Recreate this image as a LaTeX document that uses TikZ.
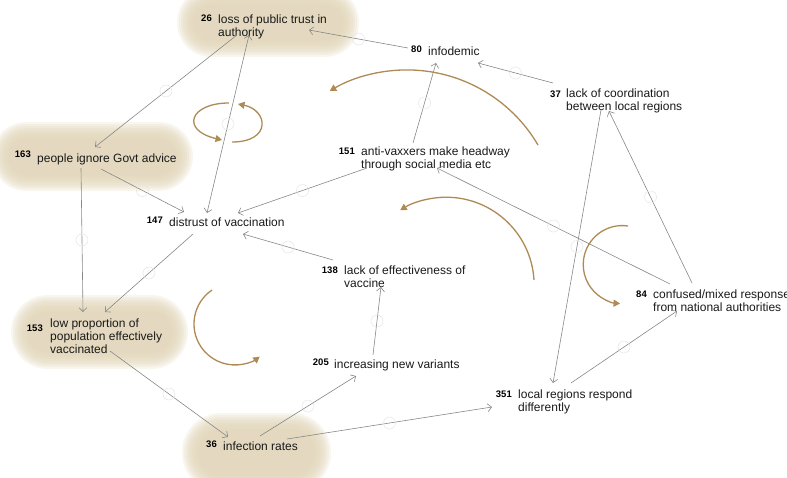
\documentclass[tikz,border=0pt]{standalone}
\usepackage{fontspec}
\setmainfont{Liberation Sans}
\usetikzlibrary{arrows.meta,calc}
\definecolor{blobc}{RGB}{225,213,184}
\definecolor{loopc}{RGB}{174,138,84}
\definecolor{edgec}{RGB}{135,135,135}
\definecolor{hdlc}{RGB}{228,228,228}
\definecolor{txtc}{RGB}{25,25,25}
\newcommand\softblob[4]{%
  \foreach \k in {0,...,8}{%
    \pgfmathsetmacro\rr{(#4-#2)/2-2*\k-0.5}%
    \fill[blobc, fill opacity=0.22, rounded corners=\rr pt] ({#1+2*\k},{#2+2*\k}) rectangle ({#3-2*\k},{#4-2*\k});
  }}
\newcommand\mlines[1]{\begin{tabular}[t]{@{}l@{}}#1\end{tabular}}
\tikzset{
  barb/.tip={Straight Barb[length=4pt,width=8pt]},
  lbl/.style={font=\fontsize{12}{13.3}\selectfont, text=txtc, inner sep=0pt, anchor=base west},
  num/.style={font=\fontsize{9.5}{11}\selectfont\bfseries, text=black, inner sep=0pt, anchor=base east},
  edge/.style={draw=edgec, line width=0.6pt, -barb},
  biedge/.style={draw=edgec, line width=0.6pt, barb-barb},
  hdl/.style={circle, draw=hdlc, line width=0.5pt, minimum size=12pt, inner sep=0pt, fill=none},
  loop/.style={draw=loopc, line width=1.3pt, -{Triangle[length=6.5pt,width=7pt]}},
}
\begin{document}
\begin{tikzpicture}[x=1pt,y=-1pt]
\useasboundingbox (0,0) rectangle (787,477);
% soft highlight blobs
\softblob{177}{-12}{359}{57}
\softblob{-8}{122}{193}{191}
\softblob{11}{295}{188}{369}
\softblob{182}{413}{331}{492}

% labels
\node[lbl] (n26) at (218,23) {\mlines{loss of public trust in\\authority}};
\node[num] (n26num) at (212,21) {26};
\node[lbl] (n80) at (428,55) {infodemic};
\node[num] (n80num) at (422,52) {80};
\node[lbl] (n37) at (566,97) {\mlines{lack of coordination\\between local regions}};
\node[num] (n37num) at (561,97) {37};
\node[lbl] (n151) at (361,155) {\mlines{anti-vaxxers make headway\\through social media etc}};
\node[num] (n151num) at (355,154) {151};
\node[lbl] (n163) at (37,162) {people ignore Govt advice};
\node[num] (n163num) at (31,157) {163};
\node[lbl] (n147) at (169,226) {distrust of vaccination};
\node[num] (n147num) at (163,223) {147};
\node[lbl] (n138) at (344,274) {\mlines{lack of effectiveness of\\vaccine}};
\node[num] (n138num) at (338,273) {138};
\node[lbl] (n153) at (50,327) {\mlines{low proportion of\\population effectively\\vaccinated}};
\node[num] (n153num) at (43,331) {153};
\node[lbl] (n205) at (334,368) {increasing new variants};
\node[num] (n205num) at (329,365) {205};
\node[lbl] (n36) at (223,450) {infection rates};
\node[num] (n36num) at (217,447) {36};
\node[lbl] (n84) at (653,298) {\mlines{confused/mixed response\\from national authorities}};
\node[num] (n84num) at (647,297) {84};
\node[lbl] (n351) at (518,398) {\mlines{local regions respond\\differently}};
\node[num] (n351num) at (512,397) {351};

% connectors
\draw[edge] ($(n80.base west)+(-20,-7)$) -- node[hdl] (h1) {} ($(n26.base west)+(91,7)$);
\draw[edge] ($(n37.base west)+(-13,-14)$) -- node[hdl] (h2) {} ($(n80.base west)+(50,8)$);
\draw[edge] ($(n151.base west)+(52,-12)$) -- node[hdl] (h3) {} ($(n80.base west)+(8,8)$);
\draw[edge] ($(n26.base west)+(19,12)$) -- node[hdl] (h4) {} ($(n163.base west)+(58,-15)$);
\draw[biedge] ($(n26.base west)+(31,12)$) -- node[hdl] (h5) {} ($(n147.base west)+(38,-13)$);
\draw[edge] ($(n163.base west)+(64,7)$) -- node[hdl] (h6) {} ($(n147.base west)+(15,-14)$);
\draw[edge] ($(n151.base west)+(6,13)$) -- node[hdl] (h7) {} ($(n147.base west)+(69,-13)$);
\draw[edge] ($(n163.base west)+(44,6)$) -- node[hdl] (h8) {} ($(n153.base west)+(33,-15)$);
\draw[edge] ($(n147.base west)+(24,8)$) -- node[hdl] (h9) {} ($(n153.base west)+(55,-15)$);
\draw[edge] ($(n138.base west)+(-11,-14)$) -- node[hdl] (h10) {} ($(n147.base west)+(74,8)$);
\draw[edge] ($(n205.base west)+(39,-13)$) -- node[hdl] (h11) {} ($(n138.base west)+(37,13)$);
\draw[edge] ($(n153.base west)+(60,24)$) -- node[hdl] (h12) {} ($(n36.base west)+(5,-13)$);
\draw[edge] ($(n36.base west)+(37,-14)$) -- node[hdl] (h13) {} ($(n205.base west)+(22,8)$);
\draw[edge] ($(n36.base west)+(64,-11)$) -- node[hdl] (h14) {} ($(n351.base west)+(-26,9)$);
\draw[edge] ($(n37.base west)+(35,13)$) -- node[hdl] (h15) {} ($(n351.base west)+(35,-15)$);
\draw[edge] ($(n84.base west)+(39,-15)$) -- node[hdl] (h16) {} ($(n37.base west)+(43,14)$);
\draw[edge] ($(n84.base west)+(17,-14)$) -- node[hdl] (h17) {} ($(n151.base west)+(76,13)$);
\draw[edge] ($(n351.base west)+(53,-15)$) -- node[hdl] (h18) {} ($(n84.base west)+(24,13)$);

% loop arrows
\draw[loop] (229,103) .. controls (190,103) and (180,130) .. (222,140);
\draw[loop] (232,142) .. controls (272,142) and (268,110) .. (238,104);
\draw[loop] (538,145) arc[start angle=-30.4, end angle=-120.5, radius=152];
\draw[loop] (534,280) arc[start angle=-3.4, end angle=-121.5, radius=88];
\draw[loop] (628,226) arc[start angle=-81.5, end angle=-266.8, radius=39];
\draw[loop] (212,290) arc[start angle=-124.1, end angle=-307.1, radius=41];
\end{tikzpicture}
\end{document}
